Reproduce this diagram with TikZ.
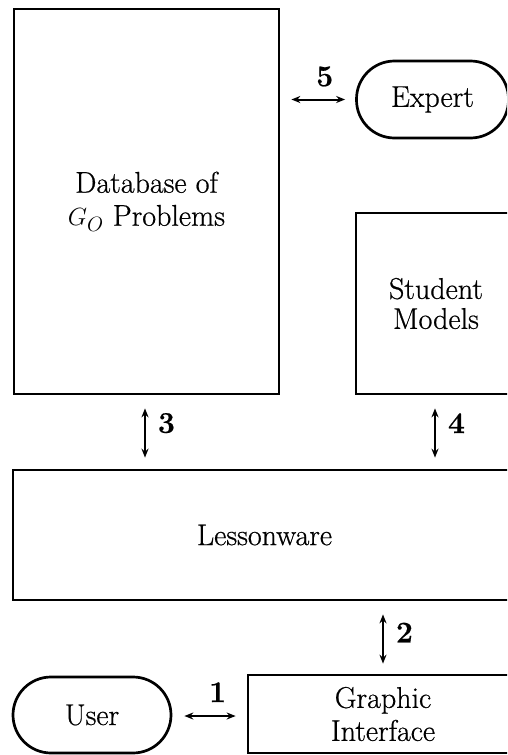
\documentclass[tikz,border=0pt]{standalone}
\usepackage{fontspec}
\setmainfont{Latin Modern Roman}[FakeBold=0.6]
\usetikzlibrary{arrows.meta,calc}
\begin{document}
\begin{tikzpicture}[x=1pt,y=-1pt,
  every node/.style={font=\fontsize{30}{33}\selectfont},
  box/.style={draw,line width=2.7pt,rectangle,inner sep=0pt,align=center},
  pill/.style={box,rounded corners=38pt},
  link/.style={line width=2pt,{Stealth[length=9pt,width=7pt]}-{Stealth[length=9pt,width=7pt]}},
  num/.style={font=\fontsize{30}{33}\selectfont\bfseries,inner sep=0pt}]
\useasboundingbox (0,0) rectangle (507,755);
\clip (0,0) rectangle (507,755);

% components
\node[box,minimum width=265pt,minimum height=385pt] (db) at (146.5,201.5)
  {Database of\\$G_O$ Problems};
\node[pill,minimum width=152pt,minimum height=77pt] (expert) at (432.5,99.5) {Expert};
\node[box,minimum width=160pt,minimum height=181pt,font=\fontsize{30}{30}\selectfont] (student) at (436,303.5)
  {Student\\Models};
\node[box,minimum width=503pt,minimum height=130pt] (lesson) at (264.5,535) {Lessonware};
\node[box,minimum width=270pt,minimum height=78pt] (gi) at (383,714) {Graphic\\Interface};
\node[pill,minimum width=158pt,minimum height=76pt] (user) at (92,715) {User};

% data flows
\draw[link] ($(db.east|-expert.west)+(11,0)$) -- ($(expert.west)+(-10,0)$)
  node[num,pos=0.62,above=12pt] {5};
\draw[link] ($(db.south)+(-1.5,13)$) -- ($(db.south|-lesson.north)+(-1.5,-11)$)
  node[num,pos=0.3,right=12pt] {3};
\draw[link] ($(student.south)+(-1,13)$) -- ($(student.south|-lesson.north)+(-1,-11)$)
  node[num,pos=0.3,right=12pt] {4};
\draw[link] ($(lesson.south-|gi.north)+(0,13)$) -- ($(gi.north)+(0,-10)$)
  node[num,pos=0.37,right=12pt] {2};
\draw[link] ($(user.east)+(12,1)$) -- ($(gi.west|-user.east)+(-11,1)$)
  node[num,pos=0.65,above=13pt] {1};
\end{tikzpicture}
\end{document}
